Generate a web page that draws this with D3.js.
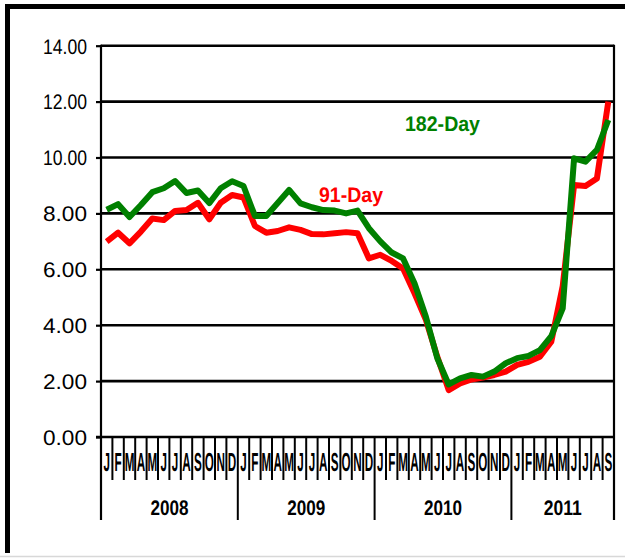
<!DOCTYPE html>
<html>
<head>
<meta charset="utf-8">
<script src="https://cdn.jsdelivr.net/npm/d3@7/dist/d3.min.js"></script>
<style>
  html, body { margin: 0; padding: 0; background: #fff; }
  svg { display: block; }
  text { font-family: "Liberation Sans", Arial, sans-serif; text-rendering: geometricPrecision; }
  .months { opacity: 0.995; }
</style>
</head>
<body>
<svg id="chart" width="625" height="558"></svg>
<script>
// Monthly T-bill yields (%), Jan 2008 – Sep 2011
const monthLetters = ["J","F","M","A","M","J","J","A","S","O","N","D"];
const years = ["2008", "2009", "2010", "2011"];
const monthsPerYear = [12, 12, 12, 9];
const yTicks = [0, 2, 4, 6, 8, 10, 12, 14];

const day91 = [
  6.99, 7.31, 6.93, 7.35, 7.82, 7.76, 8.09, 8.12, 8.38, 7.79, 8.38, 8.66,
  8.57, 7.55, 7.31, 7.37, 7.50, 7.41, 7.26, 7.25, 7.29, 7.33, 7.29, 6.39,
  6.52, 6.30, 6.03, 5.14, 4.19, 2.87, 1.68, 1.92, 2.06, 2.13, 2.22, 2.34,
  2.58, 2.69, 2.87, 3.41, 5.40, 9.02, 8.98, 9.25, 12.00
];
const day182 = [
  8.13, 8.33, 7.87, 8.30, 8.76, 8.90, 9.16, 8.73, 8.82, 8.37, 8.90, 9.15,
  8.98, 7.91, 7.91, 8.37, 8.84, 8.36, 8.22, 8.12, 8.10, 8.00, 8.10, 7.47,
  7.00, 6.60, 6.39, 5.50, 4.30, 2.82, 1.88, 2.10, 2.22, 2.16, 2.34, 2.64,
  2.82, 2.90, 3.11, 3.61, 4.60, 9.97, 9.85, 10.27, 11.34
];

const svg = d3.select("#chart");
const plotL = 101, plotR = 614, plotT = 45.7, plotB = 437;
const nMonths = day91.length;
const idx = d3.range(nMonths);

const x = d3.scaleBand().domain(idx).range([plotL, plotR]).paddingInner(0).paddingOuter(0);
const y = d3.scaleLinear().domain([0, 14]).range([plotB, plotT]);
const cx = i => x(i) + x.bandwidth() / 2;

// outer frame
svg.append("line").attr("x1", 7.5).attr("x2", 7.5).attr("y1", 4).attr("y2", 553)
  .attr("stroke", "#000").attr("stroke-width", 5);
svg.append("line").attr("x1", 5).attr("x2", 625).attr("y1", 6.5).attr("y2", 6.5)
  .attr("stroke", "#000").attr("stroke-width", 5);
svg.append("line").attr("x1", 0).attr("x2", 625).attr("y1", 556.5).attr("y2", 556.5)
  .attr("stroke", "#d8d8d8").attr("stroke-width", 1.5);

// horizontal gridlines
svg.append("g").selectAll("line").data(yTicks.filter(v => v > 0)).join("line")
  .attr("x1", plotL).attr("x2", plotR)
  .attr("y1", d => y(d)).attr("y2", d => y(d))
  .attr("stroke", "#000").attr("stroke-width", 2.6);

// left and right plot edges
svg.append("line").attr("x1", plotL).attr("x2", plotL).attr("y1", plotT - 1).attr("y2", 520)
  .attr("stroke", "#000").attr("stroke-width", 2.2);
svg.append("line").attr("x1", plotR).attr("x2", plotR).attr("y1", plotT - 1).attr("y2", 520)
  .attr("stroke", "#000").attr("stroke-width", 2.2);

// y axis ticks and labels
const yAxis = d3.axisLeft(y).tickValues(yTicks).tickSize(5).tickPadding(9)
  .tickFormat(d3.format(".2f"));
const gy = svg.append("g").attr("transform", `translate(${plotL},0)`).call(yAxis);
gy.select(".domain").remove();
gy.selectAll(".tick line").attr("stroke", "#000").attr("stroke-width", 2.2);
gy.selectAll(".tick text")
  .attr("font-size", 21).attr("fill", "#000").attr("dy", "0.35em")
  .attr("font-family", "'Liberation Sans', Arial, sans-serif")
  .attr("textLength", 44).attr("lengthAdjust", "spacingAndGlyphs");

// x axis baseline
svg.append("line").attr("x1", plotL - 5).attr("x2", plotR).attr("y1", plotB).attr("y2", plotB)
  .attr("stroke", "#000").attr("stroke-width", 2.6);

// month ticks
const boundaries = d3.range(nMonths + 1);
const bx = k => k < nMonths ? x(k) : plotR;
const yearStarts = [0];
monthsPerYear.forEach((m, i) => yearStarts.push(yearStarts[i] + m));
svg.append("g").selectAll("line").data(boundaries).join("line")
  .attr("x1", bx).attr("x2", bx)
  .attr("y1", plotB).attr("y2", k => yearStarts.includes(k) ? 520 : 480)
  .attr("stroke", "#000").attr("stroke-width", 2);

// month letters, condensed
svg.append("g").attr("class", "months").selectAll("text").data(idx).join("text")
  .attr("transform", i => `translate(${cx(i)},471) scale(0.45,1)`)
  .attr("text-anchor", "middle")
  .attr("font-size", 26).attr("font-weight", "bold").attr("fill", "#000")
  .text(i => monthLetters[i % 12]);

// year labels
svg.append("g").selectAll("text").data(years).join("text")
  .attr("x", (d, i) => (bx(yearStarts[i]) + bx(yearStarts[i + 1])) / 2)
  .attr("y", 515)
  .attr("text-anchor", "middle")
  .attr("font-size", 21).attr("font-weight", "bold").attr("fill", "#000")
  .attr("textLength", 38).attr("lengthAdjust", "spacingAndGlyphs")
  .text(d => d);

// series lines
const line = d3.line().x((d, i) => cx(i)).y(d => y(d));
svg.append("path").datum(day91).attr("d", line)
  .attr("fill", "none").attr("stroke", "#ff0000").attr("stroke-width", 6)
  .attr("stroke-linejoin", "round");
svg.append("path").datum(day182).attr("d", line)
  .attr("fill", "none").attr("stroke", "#008000").attr("stroke-width", 6)
  .attr("stroke-linejoin", "round");

// series labels
svg.append("text").attr("x", 319).attr("y", y(8.4))
  .attr("font-size", 21).attr("font-weight", "bold").attr("fill", "#ff0000")
  .attr("textLength", 64).attr("lengthAdjust", "spacingAndGlyphs")
  .text("91-Day");
svg.append("text").attr("x", 405).attr("y", y(10.95))
  .attr("font-size", 21).attr("font-weight", "bold").attr("fill", "#008000")
  .attr("textLength", 75).attr("lengthAdjust", "spacingAndGlyphs")
  .text("182-Day");
</script>
</body>
</html>
